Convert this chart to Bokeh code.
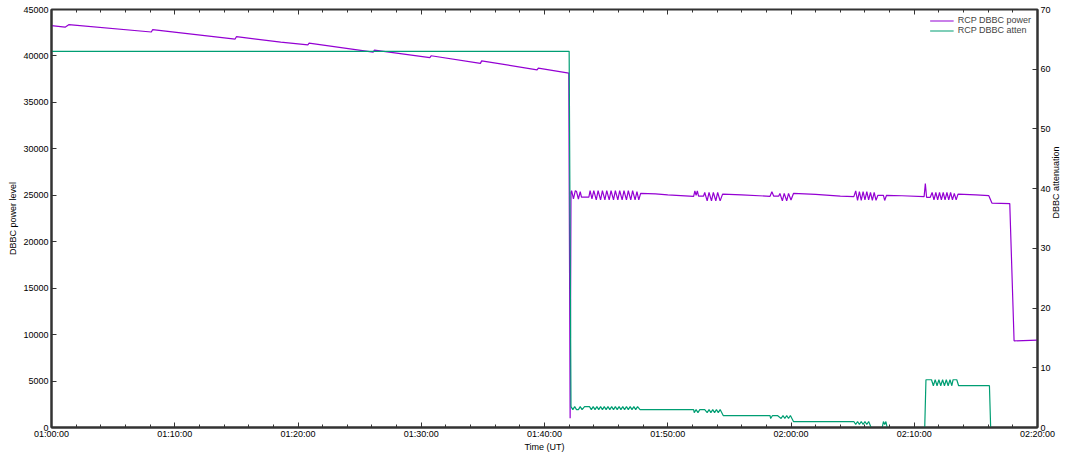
import math

from bokeh.embed import file_html
from bokeh.resources import INLINE
from bokeh.plotting import figure
from bokeh.models import Range1d, LinearAxis, FixedTicker, Legend, LegendItem

# time is minutes after 01:00:00 UT
power_min = [
    0.0, 1.1, 1.4, 8.1, 8.2, 14.9, 15.0, 18.6, 20.8, 20.9, 26.1, 26.2,
    30.7, 30.8, 34.8, 34.9, 39.4, 39.5, 41.97, 42.08, 42.15,
    42.2, 42.35, 42.5, 42.6, 42.75, 42.9, 43.0, 43.6, 43.7, 43.85, 44.0,
    44.2, 44.35, 44.55, 44.7, 44.9, 45.05, 45.25, 45.4, 45.6, 45.75, 45.95,
    46.1, 46.3, 46.45, 46.65, 46.8, 47.0, 47.15, 47.35, 47.5, 47.65, 47.8,
    49.0, 50.0, 52.1, 52.2, 52.3, 52.4, 52.5, 52.9, 53.0, 53.2, 53.35,
    53.55, 53.7, 53.9, 54.05, 54.25, 54.45,
    56.0, 58.3, 58.45, 58.6, 59.0, 59.1, 59.3, 59.45, 59.65, 59.8, 60.0, 60.2,
    62.0, 64.0, 65.1, 65.25, 65.4, 65.55, 65.7, 65.85, 66.0, 66.15, 66.3,
    66.45, 66.6, 66.75, 66.9, 67.05, 67.5, 67.6, 67.75,
    69.0, 70.8, 70.9, 71.0, 71.3, 71.45, 71.6, 71.75, 71.9, 72.05, 72.2,
    72.35, 72.5, 72.65, 72.8, 72.95, 73.1, 73.25, 73.4, 73.55,
    75.0, 76.05, 76.3, 77.75, 78.1, 80.0,
]
power_level = [
    43270, 43100, 43370, 42580, 42830, 41820, 42070, 41480, 41200, 41370, 40410, 40620,
    39820, 40020, 39200, 39470, 38500, 38680, 38160, 1000, 25300,
    25500, 24600, 25500, 25400, 24600, 25400, 24800, 24800, 25500, 24600, 25500,
    24500, 25500, 24500, 25500, 24500, 25500, 24500, 25500, 24500, 25500, 24500,
    25500, 24500, 25500, 24500, 25500, 24500, 25500, 24500, 25400, 24500, 25200,
    25150, 25050, 24890, 25480, 25000, 25480, 24900, 24900, 25300, 24400, 25300,
    24400, 25300, 24400, 25300, 24400, 25120,
    25050, 24890, 25370, 24900, 24900, 25200, 24400, 25200, 24400, 25200, 24500, 25200,
    25100, 24900, 24850, 25480, 24450, 25400, 24450, 25400, 24500, 25400, 24500,
    25300, 24450, 25300, 24450, 25000, 25000, 24440, 25000,
    24950, 24850, 26270, 24780, 24780, 25300, 24500, 25300, 24500, 25300, 24500,
    25300, 24500, 25300, 24500, 25300, 24500, 25200, 24500, 25120,
    25050, 24960, 24160, 24100, 9330, 9400,
]

atten_min = [
    0.0, 42.0, 42.15, 42.3, 42.45, 42.6, 42.75, 42.9, 43.05, 43.25, 43.65,
    43.8, 43.95, 44.1, 44.25, 44.4, 44.55, 44.7, 44.85, 45.0, 45.15, 45.3,
    45.45, 45.6, 45.75, 45.9, 46.05, 46.2, 46.35, 46.5, 46.65, 46.8, 46.95,
    47.1, 47.25, 47.4, 47.55, 47.75,
    52.1, 52.15, 52.3, 52.45, 52.6, 53.0, 53.2, 53.35, 53.5, 53.65, 53.8,
    53.95, 54.1, 54.25, 54.5,
    58.3, 58.35, 58.5, 58.9, 59.2, 59.35, 59.5, 59.65, 59.8, 59.95, 60.2,
    65.1, 65.25, 65.4, 65.55, 65.7, 65.85, 66.0, 66.15, 66.3, 66.5,
    67.4, 67.5, 67.6, 67.7, 67.8,
    70.85, 70.95, 71.4, 71.55, 71.7, 71.85, 72.0, 72.15, 72.3, 72.45, 72.6,
    72.75, 72.9, 73.05, 73.15, 73.45, 73.6, 76.1, 76.2, 80.0,
]
atten_db = [
    63, 63, 3.5, 3.0, 3.5, 3.0, 3.0, 3.5, 3.0, 3.5, 3.5,
    3.0, 3.5, 3.0, 3.5, 3.0, 3.5, 3.0, 3.5, 3.0, 3.5, 3.0,
    3.5, 3.0, 3.5, 3.0, 3.5, 3.0, 3.5, 3.0, 3.5, 3.0, 3.5,
    3.0, 3.5, 3.0, 3.5, 3.0,
    3.0, 2.5, 3.0, 2.5, 3.0, 3.0, 2.5, 3.0, 2.5, 3.0, 2.5,
    3.0, 2.5, 3.0, 2.0,
    2.0, 1.5, 2.0, 2.0, 1.5, 2.0, 1.5, 2.0, 1.5, 2.0, 1.0,
    1.0, 0.5, 1.0, 0.5, 1.0, 0.5, 1.0, 0.5, 1.0, 0.0,
    0.0, 1.0, 0.5, 1.0, 0.0,
    0.0, 8.0, 8.0, 7.0, 8.0, 7.0, 8.0, 7.0, 8.0, 7.0, 8.0,
    7.0, 8.0, 7.0, 8.0, 8.0, 7.0, 7.0, 0.0, 0.0,
]

x_ticks = [0, 10, 20, 30, 40, 50, 60, 70, 80]
x_minor_ticks = [m for m in range(0, 81, 2)]
x_tick_labels = ["01:00:00", "01:10:00", "01:20:00", "01:30:00", "01:40:00",
                 "01:50:00", "02:00:00", "02:10:00", "02:20:00"]
power_ticks = [0, 5000, 10000, 15000, 20000, 25000, 30000, 35000, 40000, 45000]
atten_ticks = [0, 10, 20, 30, 40, 50, 60, 70]

FONT = "Liberation Sans"
BORDER = "#333333"

p = figure(
    width=1073,
    height=454,
    x_range=Range1d(0, 80),
    y_range=Range1d(0, 45000),
    output_backend="svg",
    toolbar_location=None,
    tools="",
    min_border_left=51,
    min_border_right=36,
    min_border_top=9,
    min_border_bottom=10,
)
p.extra_y_ranges = {"atten": Range1d(0, 70)}
p.xgrid.visible = False
p.ygrid.visible = False
p.outline_line_color = BORDER
p.outline_line_width = 2

power = p.line(power_min, power_level, line_color="#9400d3", line_width=1.2)
atten = p.line(atten_min, atten_db, line_color="#009e73", line_width=1.2,
               y_range_name="atten")

p.xaxis.ticker = FixedTicker(ticks=x_ticks, minor_ticks=x_minor_ticks)
p.xaxis.major_label_overrides = dict(zip(x_ticks, x_tick_labels))
p.xaxis.axis_label = "Time (UT)"
p.yaxis.ticker = FixedTicker(ticks=power_ticks)
p.yaxis.axis_label = "DBBC power level"

right = LinearAxis(y_range_name="atten", ticker=FixedTicker(ticks=atten_ticks),
                   axis_label="DBBC attenuation")
p.add_layout(right, "right")

# mirrored ticks along the top border, gnuplot style
top = LinearAxis(ticker=FixedTicker(ticks=x_ticks, minor_ticks=x_minor_ticks))
top.major_label_overrides = {t: "" for t in x_ticks}
p.add_layout(top, "above")

for ax in p.axis:
    ax.axis_line_color = BORDER
    ax.axis_line_width = 2
    ax.major_tick_in = 5
    ax.major_tick_out = 0
    ax.minor_tick_in = 3
    ax.minor_tick_out = 0
    ax.major_tick_line_color = BORDER
    ax.minor_tick_line_color = BORDER
    ax.major_label_text_font = FONT
    ax.major_label_text_font_size = "9px"
    ax.major_label_text_color = "black"
    ax.major_label_standoff = 3
    ax.axis_label_text_font = FONT
    ax.axis_label_text_font_size = "9px"
    ax.axis_label_text_font_style = "normal"
    ax.axis_label_text_color = "black"
    ax.axis_label_standoff = 2
for ax in p.yaxis:
    ax.minor_tick_line_color = None
p.xaxis.major_label_standoff = 1
p.xaxis.axis_label_standoff = 0
top.axis_line_color = None
top.major_label_standoff = 0

try:
    right.axis_label_orientation = math.pi / 2
except Exception:
    pass

legend = Legend(
    items=[LegendItem(label="RCP DBBC power", renderers=[power]),
           LegendItem(label="RCP DBBC atten", renderers=[atten])],
    location="top_right",
    background_fill_alpha=0,
    border_line_alpha=0,
    label_text_font=FONT,
    label_text_font_size="9px",
    label_height=9,
    glyph_height=9,
    glyph_width=24,
    spacing=0,
    padding=2,
    margin=4,
    label_standoff=4,
)
p.add_layout(legend)

open("out.html", "w").write(file_html(p, INLINE))
